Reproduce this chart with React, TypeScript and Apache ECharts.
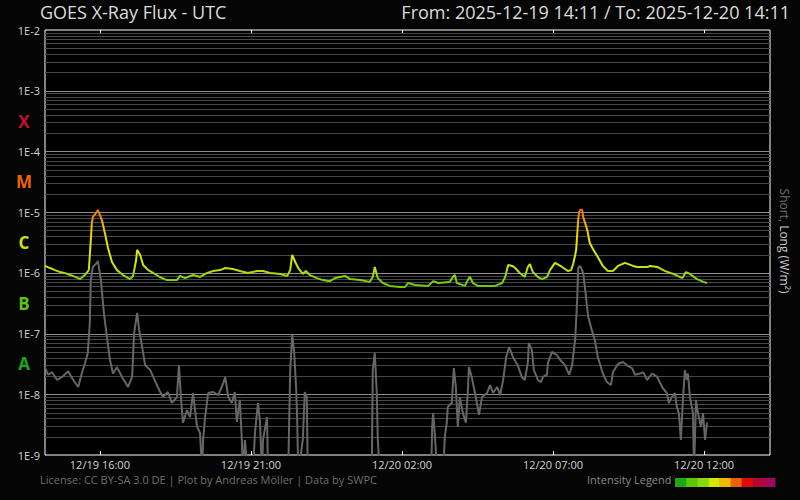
import React, { useEffect, useRef } from "react";
import * as echarts from "echarts";

// ---------- data ----------
const START_UTC = Date.UTC(2025, 11, 19, 14, 11);
const END_UTC = Date.UTC(2025, 11, 20, 14, 11);
const BELOW = 5e-10; // values under the axis floor

// [minutes since start, W/m²]
const longFlux: [number, number][] = [
  [0, 1.3e-6], [10, 1.2e-6], [20, 1.11e-6], [30, 1.03e-6], [40, 9.9e-7], [50, 9.2e-7], [60, 8.6e-7], [70, 7.9e-7],
  [79, 9.2e-7], [87, 1.11e-6], [89, 1.97e-6], [91, 3.5e-6], [93, 6.6e-6], [95, 8.3e-6], [103, 1.01e-5], [105, 1.09e-5],
  [113, 7.4e-6], [119, 4.5e-6], [125, 2.6e-6], [133, 1.51e-6], [143, 1.11e-6], [155, 9.2e-7], [169, 7.9e-7], [175, 8.9e-7],
  [181, 1.63e-6], [183, 2.4e-6], [189, 1.97e-6], [195, 1.35e-6], [205, 1.11e-6], [215, 9.95e-7], [228, 8.55e-7], [242, 7.6e-7],
  [262, 7.6e-7], [268, 8.9e-7], [278, 8.2e-7], [294, 9.2e-7], [308, 8.55e-7], [322, 9.95e-7], [334, 1.07e-6], [348, 1.11e-6],
  [358, 1.2e-6], [373, 1.16e-6], [387, 1.07e-6], [403, 9.95e-7], [421, 1.07e-6], [433, 1.07e-6], [447, 9.95e-7], [467, 9.6e-7],
  [481, 8.9e-7], [487, 1.11e-6], [491, 1.97e-6], [497, 1.51e-6], [503, 1.2e-6], [512, 9.6e-7], [518, 1.07e-6], [526, 9.2e-7],
  [540, 8.2e-7], [552, 7.6e-7], [566, 7.3e-7], [576, 8.2e-7], [596, 8.9e-7], [606, 7.9e-7], [626, 7.6e-7], [645, 7.1e-7],
  [651, 8.55e-7], [655, 1.25e-6], [661, 8.2e-7], [671, 6.8e-7], [685, 6.1e-7], [705, 5.85e-7], [715, 5.85e-7], [721, 6.8e-7],
  [735, 6.3e-7], [761, 6.1e-7], [771, 7.3e-7], [781, 6.8e-7], [804, 7.1e-7], [810, 8.55e-7], [814, 9.2e-7], [818, 6.8e-7],
  [834, 6.1e-7], [842, 8.2e-7], [844, 8.55e-7], [850, 6.8e-7], [860, 6.1e-7], [894, 6.1e-7], [908, 6.8e-7], [914, 8.55e-7],
  [920, 1.35e-6], [928, 1.3e-6], [934, 1.2e-6], [943, 9.95e-7], [953, 8.55e-7], [959, 1.25e-6], [963, 1.4e-6], [969, 1.03e-6],
  [979, 8.55e-7], [987, 7.9e-7], [997, 8.55e-7], [1003, 1.11e-6], [1013, 1.46e-6], [1027, 1.25e-6], [1039, 1.07e-6], [1045, 1.11e-6],
  [1049, 1.4e-6], [1053, 1.97e-6], [1055, 2.4e-6], [1057, 4.2e-6], [1059, 7.4e-6], [1061, 1.01e-5], [1063, 1.09e-5], [1067, 1.09e-5],
  [1069, 8.3e-6], [1077, 5.1e-6], [1082, 3.1e-6], [1088, 2.5e-6], [1098, 1.82e-6], [1108, 1.3e-6], [1118, 1.07e-6], [1128, 1.07e-6],
  [1138, 1.3e-6], [1152, 1.46e-6], [1168, 1.3e-6], [1176, 1.25e-6], [1196, 1.25e-6], [1202, 1.3e-6], [1216, 1.25e-6], [1232, 1.07e-6],
  [1248, 9.6e-7], [1266, 8.2e-7], [1273, 1.03e-6], [1281, 9.6e-7], [1295, 7.9e-7], [1308, 7.1e-7], [1315, 6.8e-7],
];

const shortFlux: [number, number][] = [
  [0, 2.8e-8], [6, 2.1e-8], [14, 2.3e-8], [24, 1.72e-8], [34, 1.93e-8], [46, 2.4e-8], [56, 1.72e-8], [66, 1.32e-8],
  [73, 2.2e-8], [79, 3.15e-8], [85, 4.8e-8], [89, 1.49e-7], [91, 7.6e-7], [95, 1.25e-6], [103, 1.46e-6], [105, 1.57e-6],
  [111, 7.6e-7], [117, 2.18e-7], [123, 8.8e-8], [129, 3.7e-8], [135, 2.2e-8], [143, 2.8e-8], [153, 1.93e-8], [165, 1.32e-8],
  [173, 1.93e-8], [177, 1.02e-7], [183, 2.18e-7], [187, 1.15e-7], [193, 6.0e-8], [199, 3.0e-8], [209, 2.5e-8], [215, 1.93e-8],
  [224, 1.32e-8], [234, 9.0e-9], [244, 1.09e-8], [252, 7.2e-9], [262, 9.0e-9], [266, 3.0e-8], [270, 9.0e-9], [274, 3.4e-9],
  [282, 5.5e-9], [288, 4.2e-9], [294, 1.05e-8], [302, 2.9e-9], [308, 2.3e-9], [312, BELOW], [314, 1.77e-9], [318, 4.2e-9],
  [324, 1.05e-8], [334, 1.09e-8], [344, 9.7e-9], [354, 1.53e-8], [358, 1.93e-8], [364, 9.0e-9], [371, 7.2e-9], [377, 1.09e-8],
  [381, 3.5e-9], [387, 8.1e-9], [391, 1.77e-9], [393, BELOW], [397, 1.77e-9], [403, BELOW], [413, BELOW], [417, 2.3e-9],
  [423, 7.2e-9], [427, 3.5e-9], [431, BELOW], [433, 1.77e-9], [441, 4.2e-9], [443, BELOW], [483, BELOW], [487, 2.5e-8],
  [491, 9.5e-8], [495, 4.8e-8], [499, 1.18e-8], [501, 3.5e-9], [503, BELOW], [512, 1.77e-9], [516, 1.09e-8], [520, 9.0e-9],
  [522, BELOW], [649, BELOW], [651, 2.5e-8], [655, 4.8e-8], [659, 1.05e-8], [661, 1.77e-9], [665, BELOW], [767, BELOW],
  [769, 2.9e-9], [771, 4.9e-9], [775, 1.77e-9], [779, BELOW], [791, BELOW], [794, 1.98e-9], [798, 3.4e-9], [800, 6.2e-9],
  [808, 7.2e-9], [812, 2.7e-8], [816, 1.32e-8], [820, 2.9e-9], [824, 9.0e-9], [830, 4.9e-9], [836, 3.4e-9], [840, 1.18e-8],
  [842, 2.8e-8], [848, 1.85e-8], [854, 1.05e-8], [862, 4.6e-9], [868, 9.0e-9], [878, 1.05e-8], [884, 1.42e-8], [890, 1.05e-8],
  [898, 1.32e-8], [904, 9.7e-9], [910, 1.72e-8], [916, 4.1e-8], [922, 6.0e-8], [930, 4.0e-8], [939, 3.0e-8], [947, 1.93e-8],
  [953, 1.72e-8], [959, 3.3e-8], [961, 7.0e-8], [967, 5.4e-8], [971, 2.5e-8], [979, 1.72e-8], [985, 1.59e-8], [989, 1.93e-8],
  [997, 2.1e-8], [999, 3.3e-8], [1007, 5.0e-8], [1017, 4.4e-8], [1023, 3.7e-8], [1033, 3.0e-8], [1041, 2.1e-8], [1047, 3.0e-8],
  [1051, 6.0e-8], [1053, 7.8e-8], [1057, 3.6e-7], [1059, 1.2e-6], [1063, 1.3e-6], [1069, 9.95e-7], [1073, 5.2e-7], [1079, 1.87e-7],
  [1086, 1.15e-7], [1092, 7.8e-8], [1098, 4.1e-8], [1108, 2.2e-8], [1116, 1.59e-8], [1124, 1.42e-8], [1128, 2.3e-8], [1138, 3.15e-8],
  [1148, 3.4e-8], [1156, 3.0e-8], [1166, 2.7e-8], [1172, 2.1e-8], [1182, 2.2e-8], [1188, 2.3e-8], [1196, 1.72e-8], [1206, 2.2e-8],
  [1216, 1.93e-8], [1222, 1.53e-8], [1227, 1.27e-8], [1235, 1.05e-8], [1239, 7.2e-9], [1245, 9.0e-9], [1251, 1.05e-8], [1255, 6.2e-9],
  [1259, 4.9e-9], [1263, 1.77e-9], [1267, 8.1e-9], [1271, 2.5e-8], [1275, 1.72e-8], [1277, 2.2e-8], [1281, 9.0e-9], [1287, 4.9e-9],
  [1289, BELOW], [1293, 8.1e-9], [1297, 4.9e-9], [1303, 2.9e-9], [1307, 4.9e-9], [1311, 1.77e-9], [1315, 3.4e-9],
];

const xTickTimesUTC = [
  Date.UTC(2025, 11, 19, 16, 0),
  Date.UTC(2025, 11, 19, 21, 0),
  Date.UTC(2025, 11, 20, 2, 0),
  Date.UTC(2025, 11, 20, 7, 0),
  Date.UTC(2025, 11, 20, 12, 0),
];
const decadeExponents = [-9, -8, -7, -6, -5, -4, -3, -2];
const minorMultipliers = [2, 3, 4, 5, 6, 7, 8, 9];
const classLetters = ["A", "B", "C", "M", "X"];
const classCentersLog = [-7.5, -6.5, -5.5, -4.5, -3.5];

// ---------- styles ----------
const FONT = "'Open Sans', 'Noto Sans', sans-serif";
const classColors: Record<string, string> = { A: "#1aa51a", B: "#5cc40c", C: "#cfe00c", M: "#e8650c", X: "#c4102c" };
const legendColors = ["#20a810", "#58c808", "#88d810", "#d0e808", "#f0b800", "#e86008", "#e00808", "#b00830", "#a00860"];
const MAJOR_GRID = "#8c8c8c";
const MINOR_GRID = "#474747";
// log10(flux) -> colour of the long channel line
const intensityStops: [number, string][] = [
  [-6.3, "#66c80c"], [-6.1, "#7cd00c"], [-6.0, "#a8dc0a"], [-5.9, "#c8e40a"], [-5.7, "#dce808"],
  [-5.5, "#eee000"], [-5.3, "#f2c800"], [-5.15, "#f2a400"], [-5.0, "#ee7a08"], [-4.9, "#e85a0c"],
];

function hex(c: string) {
  return [1, 3, 5].map((i) => parseInt(c.slice(i, i + 2), 16));
}
function colorAtLog(l: number) {
  if (l <= intensityStops[0][0]) return intensityStops[0][1];
  for (let i = 1; i < intensityStops.length; i++) {
    const [l1, c1] = intensityStops[i];
    const [l0, c0] = intensityStops[i - 1];
    if (l <= l1) {
      const t = (l - l0) / (l1 - l0);
      const a = hex(c0), b = hex(c1);
      const m = a.map((v, k) => Math.round(v + (b[k] - v) * t));
      return `rgb(${m[0]},${m[1]},${m[2]})`;
    }
  }
  return intensityStops[intensityStops.length - 1][1];
}

export default function App() {
  const ref = useRef<HTMLDivElement>(null);
  useEffect(() => {
    const chart = echarts.init(ref.current!, null, { renderer: "svg" });

    const toPoint = ([m, v]: [number, number]) => [START_UTC + m * 60000, v];
    const pad = (n: number) => String(n).padStart(2, "0");
    const fmtTime = (v: number) => {
      const d = new Date(v);
      return `${pad(d.getUTCMonth() + 1)}/${pad(d.getUTCDate())} ${pad(d.getUTCHours())}:${pad(d.getUTCMinutes())}`;
    };

    const vmMin = 5e-7, vmMax = 1.26e-5, N = 120;
    const ramp: string[] = [];
    for (let i = 0; i < N; i++) {
      const v = vmMin + ((vmMax - vmMin) * i) / (N - 1);
      ramp.push(colorAtLog(Math.log10(v)));
    }

    // horizontal grid levels: [start, value, isMajor]
    const gridLevels: [number, number, number][] = [];
    decadeExponents.forEach((e, i) => {
      if (i < decadeExponents.length - 1)
        minorMultipliers.forEach((k) => gridLevels.push([START_UTC, k * Math.pow(10, e), 0]));
    });
    decadeExponents.forEach((e, i) => {
      if (i > 0 && i < decadeExponents.length - 1) gridLevels.push([START_UTC, Math.pow(10, e), 1]);
    });

    const rich: any = {};
    classLetters.forEach((l) => {
      rich[l] = { color: classColors[l], fontSize: 17, fontWeight: "bold", fontFamily: FONT };
    });

    const tickCommon = {
      show: true,
      inside: true,
      length: 4,
      customValues: xTickTimesUTC,
      lineStyle: { color: "#ffffff", width: 1 },
    };

    const option: any = {
      animation: false,
      backgroundColor: "#050505",
      textStyle: { fontFamily: FONT },
      grid: {
        left: 45, right: 30, top: 30, bottom: 45,
        show: true, borderColor: "#ffffff", borderWidth: 1, backgroundColor: "#000000",
        containLabel: false,
      },
      visualMap: {
        type: "continuous", show: false, seriesIndex: 2, dimension: 1,
        min: vmMin, max: vmMax, inRange: { color: ramp },
      },
      xAxis: [
        {
          type: "value", min: START_UTC, max: END_UTC, position: "bottom",
          axisLine: { show: false }, splitLine: { show: false },
          axisTick: tickCommon,
          axisLabel: {
            customValues: xTickTimesUTC, formatter: fmtTime, color: "#d4d4d4",
            fontSize: 11, margin: 4, fontFamily: FONT,
          },
        },
        {
          type: "value", min: START_UTC, max: END_UTC, position: "top",
          axisLine: { show: false }, splitLine: { show: false },
          axisTick: tickCommon, axisLabel: { show: false },
        },
      ],
      yAxis: [
        {
          type: "log", logBase: 10, min: 1e-9, max: 1e-2, splitNumber: 7,
          axisLine: { show: false }, axisTick: { show: false }, splitLine: { show: false },
          axisLabel: {
            formatter: (v: number) => "1E" + Math.round(Math.log10(v)),
            color: "#d4d4d4", fontSize: 11, margin: 5, fontFamily: FONT,
          },
        },
        {
          type: "value", min: -9, max: -2, interval: 0.5, position: "left",
          axisLine: { show: false }, axisTick: { show: false }, splitLine: { show: false },
          axisLabel: {
            align: "center", margin: 21, rich,
            formatter: (v: number) => {
              const i = classCentersLog.findIndex((c) => Math.abs(c - v) < 1e-6);
              return i >= 0 ? `{${classLetters[i]}|${classLetters[i]}}` : "";
            },
          },
        },
      ],
      series: [
        {
          type: "custom", name: "grid", data: gridLevels, xAxisIndex: 0, yAxisIndex: 0,
          silent: true, z: 1, clip: false,
          encode: { x: 0, y: 1 },
          renderItem: (params: any, api: any) => {
            const v = api.value(1);
            const a = api.coord([START_UTC, v]);
            const b = api.coord([END_UTC, v]);
            const y = Math.round(a[1]) + 0.5;
            return {
              type: "line",
              shape: { x1: a[0], y1: y, x2: b[0], y2: y },
              style: { stroke: api.value(2) ? MAJOR_GRID : MINOR_GRID, lineWidth: 1 },
            };
          },
        },
        {
          type: "line", name: "Short", data: shortFlux.map(toPoint), xAxisIndex: 0, yAxisIndex: 0,
          showSymbol: false, symbol: "none", z: 3, clip: true,
          lineStyle: { color: "#666666", width: 2 }, itemStyle: { color: "#666666" },
        },
        {
          type: "line", name: "Long", data: longFlux.map(toPoint), xAxisIndex: 0, yAxisIndex: 0,
          showSymbol: false, symbol: "none", z: 4, clip: true,
          lineStyle: { width: 2 },
        },
      ],
      graphic: [
        {
          type: "text", left: 40, top: 3,
          style: { text: "GOES X-Ray Flux - UTC", fill: "#dcdcdc", fontSize: 18, fontFamily: FONT },
        },
        {
          type: "text", right: 10, top: 3,
          style: { text: "From: 2025-12-19 14:11 / To: 2025-12-20 14:11", fill: "#dcdcdc", fontSize: 18, fontFamily: FONT },
        },
        {
          type: "text", left: 40, top: 474,
          style: {
            text: "License: CC BY-SA 3.0 DE | Plot by Andreas Möller | Data by SWPC",
            fill: "#6e6e6e", fontSize: 11, fontFamily: FONT,
          },
        },
        {
          type: "text", left: 587, top: 474,
          style: { text: "Intensity Legend", fill: "#8a8a8a", fontSize: 11, fontFamily: FONT },
        },
        ...legendColors.map((c, i) => ({
          type: "rect",
          shape: { x: 675 + (i * 100) / 9, y: 478, width: 100 / 9 + 0.5, height: 9 },
          style: { fill: c },
        })),
        {
          type: "text", x: 784, y: 241, rotation: -Math.PI / 2,
          style: {
            text: "{s|Short,} {l|Long (W/m²)}",
            align: "center", verticalAlign: "middle", fontSize: 12, fontFamily: FONT,
            rich: {
              s: { fill: "#6e6e6e", fontSize: 12, fontFamily: FONT },
              l: { fill: "#c8c8c8", fontSize: 12, fontFamily: FONT },
            },
          },
        },
      ],
    };
    chart.setOption(option);
    return () => chart.dispose();
  }, []);
  return <div ref={ref} style={{ position: "fixed", left: 0, top: 0, width: 800, height: 500 }} />;
}
